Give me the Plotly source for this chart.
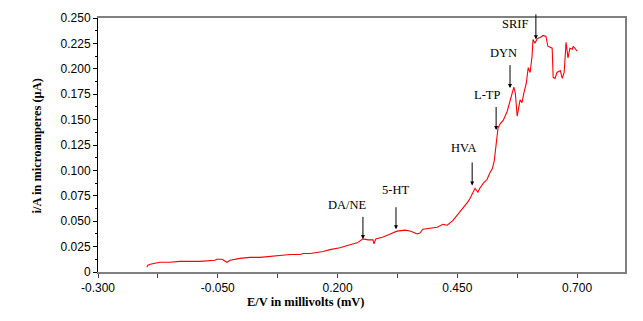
import plotly.graph_objects as go

potential_v = [-0.198, -0.196, -0.191, -0.181, -0.171, -0.150, -0.129, -0.087, -0.056, -0.052,
               -0.041, -0.031, -0.024, -0.004, 0.017, 0.038, 0.059, 0.080, 0.101, 0.122,
               0.128, 0.143, 0.170, 0.184, 0.205, 0.226, 0.241, 0.253, 0.264, 0.274,
               0.276, 0.280, 0.295, 0.310, 0.324, 0.341, 0.353, 0.366, 0.372, 0.378,
               0.393, 0.408, 0.420, 0.429, 0.441, 0.449, 0.456, 0.462, 0.472, 0.477,
               0.487, 0.493, 0.497, 0.504, 0.512, 0.518, 0.523, 0.527, 0.529, 0.531,
               0.533, 0.535, 0.539, 0.546, 0.554, 0.560, 0.564, 0.568, 0.571, 0.575,
               0.581, 0.585, 0.589, 0.594, 0.598, 0.602, 0.606, 0.608, 0.612, 0.617,
               0.623, 0.629, 0.635, 0.639, 0.648, 0.650, 0.654, 0.658, 0.665, 0.669,
               0.673, 0.677, 0.681, 0.685, 0.690, 0.692, 0.700]
current_ua = [0.0048, 0.0067, 0.0077, 0.0086, 0.0096, 0.0096, 0.0105, 0.0105, 0.0115, 0.0125,
              0.0125, 0.0096, 0.0115, 0.0134, 0.0144, 0.0144, 0.0153, 0.0163, 0.0172, 0.0172,
              0.0182, 0.0182, 0.0201, 0.0220, 0.0239, 0.0268, 0.0287, 0.0326, 0.0316, 0.0316,
              0.0278, 0.0326, 0.0345, 0.0374, 0.0402, 0.0412, 0.0402, 0.0374, 0.0383, 0.0421,
              0.0431, 0.0441, 0.0469, 0.0460, 0.0508, 0.0556, 0.0594, 0.0623, 0.0690, 0.0728,
              0.0824, 0.0785, 0.0824, 0.0872, 0.0910, 0.0977, 0.1015, 0.1092, 0.1169, 0.1264,
              0.1360, 0.1418, 0.1456, 0.1494, 0.1580, 0.1695, 0.1772, 0.1820, 0.1762, 0.1533,
              0.1695, 0.1667, 0.1762, 0.1858, 0.2011, 0.1964, 0.2126, 0.2289, 0.2251, 0.2299,
              0.2308, 0.2328, 0.2318, 0.2222, 0.2203, 0.1916, 0.1906, 0.1964, 0.1983, 0.1906,
              0.1964, 0.2261, 0.2107, 0.2203, 0.2193, 0.2222, 0.2174]

x_range = [-0.3, 0.8]
y_range = [0, 0.25]
x_tick_vals = [-0.300, -0.050, 0.200, 0.450, 0.700]
x_tick_text = ["-0.300", "-0.050", "0.200", "0.450", "0.700"]
y_tick_vals = [0, 0.025, 0.050, 0.075, 0.100, 0.125, 0.150, 0.175, 0.200, 0.225, 0.250]
y_tick_text = ["0", "0.025", "0.050", "0.075", "0.100", "0.125", "0.150", "0.175", "0.200", "0.225", "0.250"]

peak_labels = ["DA/NE", "5-HT", "HVA", "L-TP", "DYN", "SRIF"]
peak_tip_x = [0.253, 0.322, 0.481, 0.531, 0.560, 0.614]
peak_tip_y = [0.0326, 0.0421, 0.0852, 0.1398, 0.181, 0.229]
peak_label_x = [0.220, 0.320, 0.462, 0.512, 0.5455, 0.5706]
peak_label_y = [0.0661, 0.0805, 0.1216, 0.1743, 0.2155, 0.2443]
arrow_len = [23, 23, 24, 24, 24, 26]

fig = go.Figure()
fig.add_trace(go.Scatter(x=potential_v, y=current_ua, mode="lines",
                         line=dict(color="#FF0000", width=1.1), showlegend=False))
# empty trace on the overlaid frame axes so that they are drawn
fig.add_trace(go.Scatter(x=[], y=[], xaxis="x2", yaxis="y2", mode="lines",
                         showlegend=False, hoverinfo="skip"))

ann = []
for lab, tx, ty, lx, ly, al in zip(peak_labels, peak_tip_x, peak_tip_y, peak_label_x, peak_label_y, arrow_len):
    ann.append(dict(x=tx, y=ty, xref="x", yref="y", text=" ", showarrow=True,
                    ax=0, ay=-al, arrowhead=2, arrowsize=0.8, arrowwidth=1,
                    arrowcolor="#000000", font=dict(size=1), borderpad=0))
    ann.append(dict(x=lx, y=ly, xref="x", yref="y", text=lab, showarrow=False,
                    font=dict(family="Liberation Serif", size=12.5, color="#000000"),
                    xanchor="center", yanchor="middle"))

ann.append(dict(x=0.3928, y=0, xref="paper", yref="paper", yshift=-30,
                text="<b>E/V in millivolts (mV)</b>", showarrow=False,
                font=dict(family="Liberation Serif", size=12.5, color="#000000"),
                xanchor="center", yanchor="middle"))
ann.append(dict(x=0, y=0.494, xref="paper", yref="paper", xshift=-61,
                text="<b>i/A in microamperes (μA)</b>", showarrow=False, textangle=-90,
                font=dict(family="Liberation Serif", size=12.5, color="#000000"),
                xanchor="center", yanchor="middle"))

fig.update_layout(
    width=643, height=321,
    margin=dict(l=98, r=18, t=11, b=49),
    paper_bgcolor="white", plot_bgcolor="white",
    annotations=ann,
    xaxis=dict(range=x_range, tickvals=x_tick_vals, ticktext=x_tick_text,
               showgrid=False, zeroline=False, showline=True, linecolor="#808080", linewidth=2,
               ticks="outside", ticklen=4, tickcolor="#404040", tickwidth=1,
               minor=dict(dtick=0.125, tick0=-0.3, ticks="outside", ticklen=4, tickcolor="#404040", showgrid=False),
               tickfont=dict(family="Liberation Sans", size=12, color="#000000")),
    yaxis=dict(range=y_range, tickvals=y_tick_vals, ticktext=y_tick_text,
               showgrid=False, zeroline=False, showline=True, linecolor="#000000", linewidth=1,
               ticks="outside", ticklen=4, tickcolor="#000000", tickwidth=1,
               minor=dict(dtick=0.0125, tick0=0, ticks="outside", ticklen=2, tickcolor="#000000", showgrid=False),
               tickfont=dict(family="Liberation Sans", size=12, color="#000000"),
               ticklabeloverflow="allow"),
    xaxis2=dict(range=x_range, overlaying="x", side="top", anchor="y2",
                showline=True, linecolor="#808080", linewidth=2,
                showgrid=False, zeroline=False, showticklabels=False, ticks=""),
    yaxis2=dict(range=y_range, overlaying="y", side="right", anchor="x2",
                showline=True, linecolor="#808080", linewidth=2,
                showgrid=False, zeroline=False, showticklabels=False, ticks=""),
)

fig.write_html("out.html", config={"displayModeBar": False},
               post_script="document.body.style.margin='0';document.body.style.overflow='hidden';")
